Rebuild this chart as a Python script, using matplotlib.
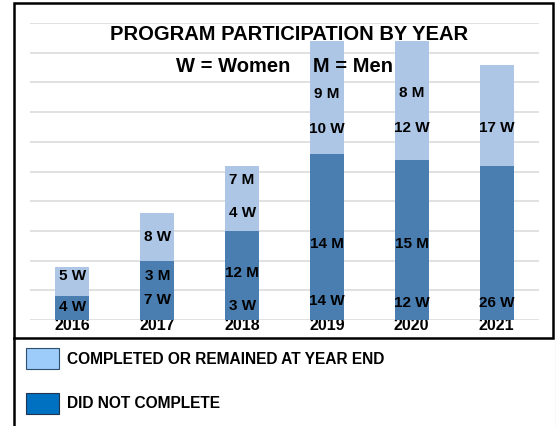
import numpy as np
import matplotlib.pyplot as plt
from matplotlib.patches import Patch, Rectangle
from matplotlib.lines import Line2D

plt.rcParams['font.family'] = ['Liberation Sans', 'DejaVu Sans']
plt.rcParams['font.weight'] = 'bold'

years = ['2016', '2017', '2018', '2019', '2020', '2021']
# did not complete
nc_women = [4, 7, 3, 14, 12, 26]
nc_men = [0, 3, 12, 14, 15, 0]
# completed or remained at year end
c_women = [5, 8, 4, 10, 12, 17]
c_men = [0, 0, 7, 9, 8, 0]

# where the W / M notes sit inside the bars (data units)
nc_women_y = [2.2, 3.4, 2.4, 3.2, 2.9, 2.9]
nc_men_y = [0, 7.4, 7.9, 12.8, 12.8, 0]
c_women_y = [7.4, 14.0, 18.0, 32.2, 32.3, 32.3]
c_men_y = [0, 0, 23.6, 38.0, 38.2, 0]

not_complete = np.array(nc_women) + np.array(nc_men)
completed = np.array(c_women) + np.array(c_men)

W, H = 556, 426
fig = plt.figure(figsize=(W / 100, H / 100), dpi=100)
ax = fig.add_axes([30 / W, 1 - 320 / H, 509 / W, 297 / H])

x = np.arange(len(years))
ax.bar(x, not_complete, width=0.4, color='#4A7EB0', zorder=2)
ax.bar(x, completed, width=0.4, bottom=not_complete, color='#ADC6E6', zorder=2)

ax.set_xlim(-0.5, len(years) - 0.5)
ax.set_ylim(0, 50)
ax.set_yticks(np.arange(0, 51, 5))
ax.yaxis.grid(True, color='#D9D9D9', lw=1.1, zorder=0)
ax.set_yticklabels([])
ax.tick_params(axis='y', length=0)
ax.set_xticks(x)
ax.set_xticklabels(years, fontsize=11.5, fontweight='bold')
ax.tick_params(axis='x', length=0, pad=-1.5)
for s in ax.spines.values():
    s.set_visible(False)

def note(vals, ys, tag):
    for i, (v, y) in enumerate(zip(vals, ys)):
        if v:
            ax.text(i, y, f'{v} {tag}', ha='center', va='center',
                    fontsize=11, fontweight='bold', zorder=3)

note(nc_women, nc_women_y, 'W')
note(nc_men, nc_men_y, 'M')
note(c_women, c_women_y, 'W')
note(c_men, c_men_y, 'M')

fig.text(289 / W, 1 - 35 / H, 'PROGRAM PARTICIPATION BY YEAR', ha='center',
         va='center', fontsize=14.5, fontweight='bold')
fig.text(285 / W, 1 - 66 / H, 'W = Women    M = Men', ha='center',
         va='center', fontsize=14.5, fontweight='bold')

# frames
fig.add_artist(Rectangle((13.5 / W, 1 - 338 / H), 539.5 / W, 335 / H,
                         transform=fig.transFigure, fill=False,
                         ec='black', lw=1.8))
fig.add_artist(Line2D([13.5 / W, 13.5 / W], [0, 1 - 338 / H],
                      transform=fig.transFigure, color='black', lw=1.8))
fig.add_artist(Line2D([555.5 / W, 555.5 / W], [0, 1 - 338 / H],
                      transform=fig.transFigure, color='#A0A0A0', lw=0.8))

handles = [Patch(fc='#9DCBFA', ec='#2F4F6F', lw=0.8),
           Patch(fc='#0070C0', ec='#1F3550', lw=0.8)]
fig.legend(handles, ['COMPLETED OR REMAINED AT YEAR END', 'DID NOT COMPLETE'],
           loc='upper left', bbox_to_anchor=(20 / W, 1 - 342 / H),
           frameon=False, fontsize=11.2, handlelength=2.1, handleheight=1.7,
           labelspacing=1.5, handletextpad=0.5, borderaxespad=0)

fig.savefig('out.png', dpi=100)
